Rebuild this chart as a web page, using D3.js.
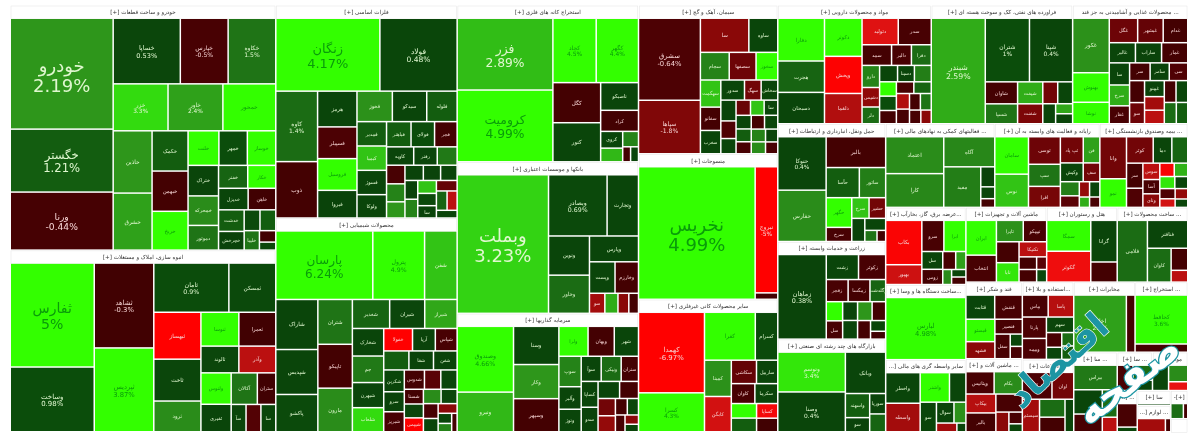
<!DOCTYPE html>
<html>
<head>
<meta charset="utf-8">
<script src="https://cdn.jsdelivr.net/npm/d3@7"></script>
<style>
  html, body { margin: 0; padding: 0; background: #fff; }
  svg { display: block; filter: blur(0.5px); }
  text { font-family: "DejaVu Sans", "Noto Sans", sans-serif; }
</style>
</head>
<body>
<div id="map"></div>
<script>
// group names, and the size of each group in the map
const sectorNames = ["خودرو و ساخت قطعات [+]", "انبوه سازی، املاک و مستغلات [+]", "فلزات اساسی [+]", "محصولات شیمیایی [+]", "استخراج کانه های فلزی [+]", "بانکها و موسسات اعتباری [+]", "سرمایه گذاریها [+]", "سیمان، آهک و گچ [+]", "منسوجات [+]", "سایر محصولات کانی غیرفلزی [+]", "مواد و محصولات دارویی [+]", "فراورده های نفتی، کک و سوخت هسته ای [+]", "... محصولات غذایی و آشامیدنی به جز قند", "حمل ونقل، انبارداری و ارتباطات [+]", "... فعالیتهای کمکی به نهادهای مالی [+]", "رایانه و فعالیت های وابسته به آن [+]", "... بیمه وصندوق بازنشستگی [+]", "زراعت و خدمات وابسته [+]", "بازارگاه های چند رشته ای صنعتی [+]", "...عرضه برق، گاز، بخارآب [+]", "ماشین آلات و تجهیزات [+]", "هتل و رستوران [+]", "... ساخت محصولات [+]", "...ساخت دستگاه ها و وسا [+]", "سایر واسطه گری های مالی [+]", "قند و شکر [+]", "... ماشین آلات و [+]", "...استفاده و بلا [+]", "... اطلاعات [+]", "مخابرات [+]", "... استخراج [+]", "... سا [+]", "... سا [+]", "موتور [+]", "... [+]", "سا [+]", "... لوازم [+]", "[+]-", ""];
const sectorValues = [64660, 47965, 38372, 38553, 28236, 27331, 21358, 20572, 20155, 18348, 18088, 16660, 13566, 12636, 9072, 8736, 7308, 10476, 9936, 6156, 6004, 5244, 5244, 5994, 5751, 4300, 4100, 3950, 3700, 4275, 3675, 3440, 1344, 1344, 820, 500, 875, 475, 220];
// the order the map lays its groups out in
const sectorOrder = [0, 1, 2, 3, 4, 5, 6, 7, 8, 9, 10, 11, 12, 13, 17, 18, 14, 15, 16, 19, 23, 24, 20, 21, 22, 25, 26, 27, 28, 29, 30, 31, 32, 33, 34, 35, 36, 37, 38];

const names1 = ["خودرو", "خگستر", "ورنا", "خساپا", "خپارس", "خکاوه", "خزر", "خاور", "خمحور", "خاذین", "خشرق", "خکمک", "خبهمن", "خریخ", "خلنت", "خمهر", "خوساز", "ختراک", "خمحرکه", "دموتور", "خفنر", "خکار", "خدیزل", "خاهن", "خدشت", "", "", "خچرخش", "خلیبا", "", ""];
const sizes1 = [11200, 6300, 5800, 4250, 3000, 2990, 2450, 2450, 2360, 2300, 2100, 1350, 1350, 1300, 980, 900, 900, 850, 820, 680, 600, 575, 570, 530, 490, 280, 280, 420, 250, 150, 100];
const changes1 = [2.19, 1.21, -0.44, 0.53, -0.5, 1.5, 3.3, 2.4, 3.9, 2.2, 2.4, 1.2, -0.4, 4.2, 4.2, 1, 4, 0.4, 2, 1.5, 1.3, 3.6, 0.4, -0.3, 1.2, 0.8, 1.2, 0.3, 1.5, -0.3, 0.5];

const names2 = ["ثفارس", "وساخت", "ثشاهد", "ثپردیس", "ثامان", "ثمسکن", "ثبهساز", "ثاخت", "ثرود", "ثنوسا", "ثعمرا", "ثالوند", "وآذر", "ولنوس", "آکالان", "ستران", "ثقیری", "سآ", "", "سا"];
const sizes2 = [8262, 5100, 4731, 4674, 3431, 2115, 2025, 1800, 1305, 1152, 1120, 900, 875, 840, 725, 500, 730, 340, 340, 340];
const changes2 = [5, 0.98, -0.3, 3.87, 0.9, 0.7, -5, 0.5, 2, 4.5, -0.3, 0.5, -3, 4.5, 1.5, -0.3, 0.4, 0.5, -0.8, 0.4];

const names3 = ["زنگان", "فولاد", "کاوه", "ذوب", "هرمز", "فسپیلر", "فروسیل", "فیروا", "فخوز", "سیدکو", "فلوله", "فمدیر", "کیمیا", "ولوکا", "فسوژ", "فباهنر", "فجر", "فولای", "کاویه", "رفتر", "", "", "", "", "", "", "سا", "", "", "", "", "", "", "", "", ""];
const sizes3 = [7107, 5244, 2700, 2145, 1258, 1110, 1110, 962, 952, 924, 812, 621, 621, 594, 621, 528, 484, 506, 420, 360, 300, 280, 225, 210, 200, 180, 180, 270, 190, 190, 160, 170, 240, 190, 150, 120];
const changes3 = [4.17, 0.48, 1.4, -0.4, 0.4, -0.6, 4.4, 0.3, 2.1, 0.4, 1.2, 1.2, 3, 0.4, 0.4, 1.2, -0.4, 1, 0.4, 0.5, 1.6, -0.5, 0.3, 0.3, 0.4, 0.7, 0.3, 1.8, 0.3, 1.8, 1.3, -1.2, 2.2, 3, -3, 0.4];

const names4 = ["پارسان", "پترول", "شفن", "شاراک", "شپدیس", "پاکشو", "شتران", "تاپیکو", "مارون", "شغدیر", "شیران", "شیراز", "شخارک", "شبهرن", "جم", "شلعاب", "خفولا", "آریا", "شپاس", "", "شفن", "شفا", "سرو", "شبریز", "شدوس", "شکربن", "", "", "شستا", "شیپمی", "", "", "", "", "", "", "", "", ""];
const sizes4 = [6175, 3250, 2015, 1900, 1700, 1400, 1380, 1350, 1340, 950, 890, 820, 750, 680, 720, 650, 552, 430, 410, 400, 374, 390, 340, 340, 320, 374, 255, 210, 224, 210, 255, 180, 170, 200, 150, 140, 100, 80, 70];
const changes4 = [6.24, 4.9, 3, 0.4, 0.4, 0.8, 1.5, -0.4, 2, 1.3, 0.5, 2.5, 0.4, 0.5, 1.6, 3.3, -5, 0.3, -0.5, 1.2, 0.3, 0.3, 0.3, -0.5, -0.4, 0.4, -1, 0.4, -0.4, -5, 0.4, 0.5, -0.5, 2, 0.4, -2, 0.4, 1.8, -0.4];

const names5 = ["فزر", "کرومیت", "کچاد", "کگهر", "کگل", "کنور", "تاصیکو", "کراد", "کروی", "", "", "", ""];
const sizes5 = [6348, 6348, 2520, 2460, 1710, 1665, 912, 684, 300, 190, 240, 84, 84];
const changes5 = [2.89, 4.99, 4.5, 4.4, -0.4, 0.4, 0.4, -0.4, 0.4, 1.8, 2.8, -0.4, 0.4];

const names6 = ["وبملت", "وبصادر", "وتجارت", "وخاور", "ونوین", "وپارس", "وپست", "وخارزم", "سو", "", "", ""];
const sizes6 = [11968, 3306, 1740, 1404, 1443, 1128, 700, 640, 250, 210, 170, 150];
const changes6 = [3.23, 0.69, 0.4, 1.4, 0.4, 0.4, 0.4, -0.4, -2.5, 2.6, -2, -0.4];

const names7 = ["وصندوق", "ونیرو", "وسنا", "وکار", "وسپهر", "ولرا", "وبهان", "شهر", "سوپ", "وآلبر", "وتوژ", "سوآ", "ونیکی", "سدو", "", "ستران", "کساپا", "", "", "", "", "", "", "", ""];
const sizes7 = [3392, 2014, 1548, 1376, 1333, 756, 675, 621, 580, 420, 420, 420, 420, 340, 300, 360, 360, 240, 260, 220, 150, 140, 120, 90, 70];
const changes7 = [4.66, 2.8, 0.4, 2.2, -0.4, 4.3, -0.4, 0.4, 1.8, 0.4, 0.4, 0.4, 1.4, 0.3, 0.4, -0.4, 0.4, -1.5, -0.4, -2.2, -0.4, 0.4, -0.5, -2, 0.4];

const names8 = ["سشرق", "سپاها", "سا", "ساوه", "سجام", "سصفها", "سخوز", "سهگمت", "سفانو", "سغرب", "سدور", "سهگ", "سخاش", "", "", "", "", "سا", "", "", "", "", "", "", "", "", "", ""];
const sizes8 = [4424, 2856, 1392, 812, 648, 600, 480, 440, 374, 374, 374, 255, 255, 240, 200, 150, 140, 150, 170, 160, 130, 130, 150, 120, 130, 110, 130, 100];
const changes8 = [-0.64, -1.8, -2, 0.4, 1.8, -1.4, 4.4, 3, -0.4, 0.4, 0.4, -1.5, 0.4, 0.3, -0.7, 3, 1.2, 0.4, 0.4, -1.3, -0.5, -0.4, 0.4, 2, 0.4, 0.4, 1.8, -0.5];

const names9 = ["نخریس", "نبروج", ""];
const sizes9 = [14351, 2562, 105];
const changes9 = [4.99, -5, -0.4];

const names10 = ["کهمدا", "کسرا", "کفرا", "کسرام", "کمینا", "کابگن", "سکاشی", "کاوان", "کساپا", "", "ساربیل", "سکرما", "", ""];
const sizes10 = [4914, 2331, 2205, 945, 850, 825, 500, 391, 250, 300, 418, 380, 230, 280];
const changes10 = [-6.97, 4.3, 4.2, 0.8, 2.1, -3.5, -1.2, -0.5, -4.5, 4.3, 0.4, 0.4, -0.3, 1.2];

const names11 = ["دفارا", "هجرت", "دسبحان", "دکوثر", "وپخش", "دتولید", "دلقما", "سدر", "سمد", "دالبر", "دفرا", "دارو", "دشیمی", "دلر", "", "", "", "", "دسینا", "", "", "", "", "", "", "", "", ""];
const sizes11 = [1720, 1247, 1247, 1216, 1184, 800, 957, 726, 495, 323, 323, 304, 266, 225, 225, 180, 165, 150, 210, 150, 210, 150, 140, 180, 130, 130, 110, 100];
const changes11 = [4.4, 1.3, 0.4, 4.4, -4.9, -3.8, -2.8, -0.5, -0.4, -0.5, 1.4, 1.8, -2.1, 1.4, 0.4, 4, -0.4, -0.5, 0.4, 1.3, 1.7, -2.8, -0.5, 0.9, -0.4, 1.5, -0.5, -2];

const names12 = ["شبندر", "شپنا", "شتران", "شاوان", "شیفت", "", "", "شسپا", "شفنت", "", "", ""];
const sizes12 = [5200, 2460, 2520, 600, 460, 260, 260, 540, 414, 200, 126, 126];
const changes12 = [2.59, 0.4, 1, -0.4, 2.6, -1.5, 0.4, 1.5, -1.7, 0.4, 2.5, 0.4];

const names13 = ["غکور", "بهنوش", "نوشا", "غگل", "غبشهر", "غدام", "غالبر", "ساراب", "سا", "غمار", "غفار", "سرخ", "سی", "سو", "سر", "سامر", "", "", "", "", "غپینو", "", "", ""];
const sizes13 = [1696, 896, 640, 560, 500, 480, 418, 418, 352, 418, 280, 330, 250, 240, 280, 260, 250, 200, 200, 190, 240, 190, 190, 180];
const changes13 = [2.1, 4.3, 4.3, -1.4, -1.2, -0.4, 0.4, 0.3, 0.4, -0.4, -0.5, 2.6, -0.7, -1.4, -0.4, 0.3, -0.4, -2.5, -3, -0.4, 0.3, 0.4, 1.4, 1.2];

const names14 = ["حتوکا", "حفارس", "بالبر", "حآسا", "حگهر", "ساتور", "حشیر", "سرخ", "", "سرخ", "", "", ""];
const sizes14 = [2150, 2064, 1508, 800, 600, 627, 255, 270, 221, 266, 180, 90, 60];
const changes14 = [0.4, 2, -0.4, 1.2, 4.2, 1.7, -1.5, -0.5, 0.3, 3, 0.4, 1.5, -0.4];

const names15 = ["اعتماد", "کارا", "آگاه", "مفید", "", "", ""];
const sizes15 = [1870, 1705, 1323, 1292, 216, 120, 84];
const changes15 = [2, 1.9, 1.9, 1.7, 0.3, 0.4, -0.4];

const names16 = ["سامان", "نوس", "توسی", "افرا", "سپ", "تپ پاد", "فن", "", "", "وکیش", "سف", "", "", "", ""];
const sizes16 = [1054, 930, 720, 540, 570, 480, 340, 200, 160, 336, 238, 110, 110, 70, 70];
const changes16 = [4.2, 3, -1.4, -1.6, 1.5, -1.5, 2.4, 1.7, -1, 0.4, -1.5, -2.2, 0.4, 2.6, -0.5];

const names17 = ["وانا", "نمو", "کوثر", "دما", "سر", "", "سوس", "", "", "", "وتای", "", "", "آسا", "", "", "", ""];
const sizes17 = [936, 624, 575, 391, 322, 330, 210, 140, 130, 240, 170, 130, 110, 180, 110, 90, 90, 70];
const changes17 = [-1.5, 4.3, -1.5, 0.4, -0.4, 1.3, -3, -4.7, 2.7, -0.7, -2, 3.4, 0.4, -0.5, -0.7, -3.5, -2.2, 0.4];

const names18 = ["زماهان", "زشت", "زکوثر", "زفجر", "زمگسا", "زگلدشت", "", "", "", "", "سل", "", "", "", ""];
const sizes18 = [3735, 690, 575, 400, 400, 280, 220, 250, 200, 216, 238, 221, 187, 120, 84];
const changes18 = [0.38, 0.4, -0.5, -0.5, -0.4, 1.3, 0.4, 4.2, -0.4, 2.2, -0.5, 0.4, -0.4, 0.4, -0.3];

const names19 = ["وتوسم", "وصنا", "وبانک", "واسهند", "", "سوریا", "سو"];
const sizes19 = [2368, 2368, 1444, 480, 220, 255, 270];
const changes19 = [3.4, 0.4, 0.4, 1.2, 1.3, 0.4, 0.3];

const names20 = ["بکاب", "بهپور", "سرو", "ابرا", "سل", "", "", "زومی", "", "", ""];
const sizes20 = [1344, 576, 550, 550, 285, 170, 90, 240, 130, 70, 70];
const changes20 = [-4.8, -3.4, -0.5, 4, 0.4, -0.5, 2, -0.4, 2.4, 0.4, -0.4];

const names21 = ["ایران", "انتخاب", "تایرا", "تیپیکو", "تابا", "تکنیکا", "", "", "", "", ""];
const sizes21 = [918, 702, 480, 414, 360, 340, 390, 170, 170, 90, 90];
const changes21 = [4.2, -0.5, 2.1, -0.5, 3.4, -3, -0.4, -0.4, -0.4, -1, 0.6];

const names22 = ["سمگا", "گکوثر", "گرانا", ""];
const sizes22 = [1230, 1230, 984, 456];
const changes22 = [4.2, -4.3, 0.4, -0.4];

const names23 = ["فلامی", "فنافتر", "کاوان", "", ""];
const sizes23 = [1674, 988, 693, 300, 150];
const changes23 = [1.4, 0.4, 1.4, -0.4, -3];

const names24 = ["لبارس"];
const sizes24 = [4582];
const changes24 = [4.98];

const names25 = ["واخطر", "واسطه", "واشنر", "سو", "", "سوال", "", "", ""];
const sizes25 = [896, 832, 728, 390, 392, 290, 190, 130, 50];
const changes25 = [0.4, -2.5, 3.8, 0.4, 0.4, 0.4, 2.1, -2.5, 0.4];

const names26 = ["قثابت", "قیستو", "قنقش", "قشهد", "قنصیر", "سفل", "", ""];
const sizes26 = [644, 600, 616, 448, 364, 336, 120, 120];
const changes26 = [0.4, 4.2, -0.5, -2, -0.5, -0.5, 0.4, -0.5];

const names27 = ["ویتانیس", "بکام", "بالبر", "بیکاپ", "", "", "", ""];
const sizes27 = [504, 504, 448, 450, 375, 190, 110, 70];
const changes27 = [-0.5, 2, -0.4, -2.9, -0.5, -2, -0.5, 0.4];

const names28 = ["بپاس", "وبیمه", "پاسا", "سهم", "پارتا", "", "", "", ""];
const sizes28 = [442, 390, 437, 324, 399, 162, 110, 110, 130];
const changes28 = [-0.5, -0.6, -2.9, 0.4, -0.6, -0.5, 1.4, 1.2, 0.4];

const names29 = ["سآما", "اوان", "سیستم", "", "", ""];
const sizes29 = [900, 650, 620, 500, 400, 300];
const changes29 = [-0.6, -1.5, -2.5, 1.4, -0.4, 0.4];

const names30 = ["اخابر", ""];
const sizes30 = [2990, 455];
const changes30 = [2.4, -0.4];

const names31 = ["کحافظ", ""];
const sizes31 = [2535, 390];
const changes31 = [3.6, -0.4];

const names32 = ["بیراس", "", "", "", ""];
const sizes32 = [1100, 700, 500, 400, 200];
const changes32 = [1.6, 0.4, -0.5, 1.4, -3];

const names33 = ["", "", ""];
const sizes33 = [420, 300, 200];
const changes33 = [-0.5, 1.4, 0.4];

const names34 = ["", "", ""];
const sizes34 = [420, 320, 160];
const changes34 = [0.4, 2, -4];

const names35 = ["", ""];
const sizes35 = [540, 90];
const changes35 = [-0.5, 0.4];

const names36 = [""];
const sizes36 = [300];
const changes36 = [0.4];

const names37 = ["", ""];
const sizes37 = [500, 80];
const changes37 = [-2.5, -0.4];

const names38 = ["", ""];
const sizes38 = [170, 50];
const changes38 = [1.4, -0.4];

const names39 = [""];
const sizes39 = [100];
const changes39 = [3.4];

const tileNames = [names1, names2, names3, names4, names5, names6, names7, names8, names9, names10, names11, names12, names13, names14, names15, names16, names17, names18, names19, names20, names21, names22, names23, names24, names25, names26, names27, names28, names29, names30, names31, names32, names33, names34, names35, names36, names37, names38, names39];
const tileSizes = [sizes1, sizes2, sizes3, sizes4, sizes5, sizes6, sizes7, sizes8, sizes9, sizes10, sizes11, sizes12, sizes13, sizes14, sizes15, sizes16, sizes17, sizes18, sizes19, sizes20, sizes21, sizes22, sizes23, sizes24, sizes25, sizes26, sizes27, sizes28, sizes29, sizes30, sizes31, sizes32, sizes33, sizes34, sizes35, sizes36, sizes37, sizes38, sizes39];
const tileChanges = [changes1, changes2, changes3, changes4, changes5, changes6, changes7, changes8, changes9, changes10, changes11, changes12, changes13, changes14, changes15, changes16, changes17, changes18, changes19, changes20, changes21, changes22, changes23, changes24, changes25, changes26, changes27, changes28, changes29, changes30, changes31, changes32, changes33, changes34, changes35, changes36, changes37, changes38, changes39];

const width = 1200, height = 440;
const margin = {left: 11, top: 6, right: 13, bottom: 9};
const headerHeight = 13;
const tileGap = 1.5;

// sizes were read inside the gaps, so the gap goes back on before sharing out
let withGap = s => Math.pow(Math.sqrt(s) + tileGap, 2);

// build the tree: each group is spread out to its own share of the map
let treeData = {
    children: sectorNames.map((name, i) => {
        let total = d3.sum(tileSizes[i], withGap);
        return {
            name: name,
            rank: sectorOrder.indexOf(i),
            children: tileNames[i].map((tile, j) => ({
                name: tile,
                change: tileChanges[i][j],
                value: sectorValues[i] * withGap(tileSizes[i][j]) / total
            }))
        };
    })
};

let root = d3.hierarchy(treeData)
            .sum(d => d.children ? 0 : d.value)
            .sort((a, b) => a.height > 0 ? a.data.rank - b.data.rank : b.value - a.value);

d3.treemap()
    .tile(d3.treemapSquarify.ratio(1))
    .size([width - margin.left - margin.right, height - margin.top - margin.bottom])
    .paddingTop(d => d.depth === 1 ? headerHeight : 0)
    .paddingInner(tileGap)(root);

let colorScale = d3.scaleLinear()
    .domain([-5, -4, -3, -2, -1, -0.001, 0, 1, 1.5, 2.2, 3.2, 3.6, 5])
    .range(["#ff0000", "#e81212", "#bb1010", "#8a0808", "#5a0206", "#360000", "#0a3f0a", "#0b4d0b", "#1f7416", "#2e961b", "#33cf14", "#33ff00", "#33ff00"])
    .clamp(true);

let fontScale = d3.scaleLinear()
    .domain([300, 1500, 5300, 6300, 8400, 11000])
    .range([4.8, 5.5, 7, 12, 14, 18])
    .clamp(true);

function textColor(change) {
    if (change >= 3.5) return "#0a9c0a";
    return change >= 0 ? "#dff7cf" : "#f7d5d5";
}

let svg = d3.select("#map").append("svg")
            .attr("width", width)
            .attr("height", height);

let plot = svg.append("g")
            .attr("transform", `translate(${margin.left},${margin.top})`);

let groups = plot.selectAll("g.sector")
            .data(root.children)
            .join("g")
            .classed("sector", true);

groups.append("rect")
    .attr("x", d => d.x0)
    .attr("y", d => d.y0)
    .attr("width", d => d.x1 - d.x0)
    .attr("height", headerHeight)
    .attr("fill", "#fff")
    .attr("stroke", "#e4e4e4")
    .attr("stroke-width", 0.5);

groups.append("text")
    .attr("x", d => (d.x0 + d.x1) / 2)
    .attr("y", d => d.y0 + 8)
    .attr("text-anchor", "middle")
    .attr("font-size", 5.6)
    .attr("fill", "#333")
    .attr("direction", "rtl")
    .text(d => d.data.name)
    .each(function (d) {
        // long names get cut the way the map cuts them
        let room = d.x1 - d.x0 - 3;
        let label = d.data.name;
        while (label.length > 0 && this.getComputedTextLength() > room) {
            label = label.slice(0, -1);
            d3.select(this).text(label.length > 3 ? label + "..." : label);
        }
    });

let tiles = plot.selectAll("g.tile")
            .data(root.leaves())
            .join("g")
            .classed("tile", true);

tiles.append("rect")
    .attr("x", d => d.x0)
    .attr("y", d => d.y0)
    .attr("width", d => Math.max(0, d.x1 - d.x0))
    .attr("height", d => Math.max(0, d.y1 - d.y0))
    .attr("fill", d => colorScale(d.data.change));

tiles.filter(d => d.data.name !== "").each(function (d) {
    let w = d.x1 - d.x0, h = d.y1 - d.y0, area = w * h;
    let size = fontScale(area);
    let cx = (d.x0 + d.x1) / 2, cy = (d.y0 + d.y1) / 2;
    let withPct = area > 2400;
    let label = d3.select(this).append("text")
        .attr("text-anchor", "middle")
        .attr("font-size", size)
        .attr("fill", textColor(d.data.change));
    label.append("tspan")
        .attr("x", cx)
        .attr("y", withPct ? cy - size * 0.12 : cy + size * 0.35)
        .text(d.data.name);
    if (withPct) {
        label.append("tspan")
            .attr("x", cx)
            .attr("y", cy + size * 1.02)
            .attr("direction", "ltr")
            .text(d.data.change + "%");
    }
});

// the publisher's mark sitting on the lower right corner
let logo = svg.append("g").attr("font-weight", "bold");

logo.append("text")
    .attr("transform", "translate(1066,370) rotate(-42)")
    .attr("text-anchor", "middle")
    .attr("font-size", 37)
    .attr("fill", "#1c95a3")
    .attr("stroke", "#fff")
    .attr("stroke-width", 1.2)
    .attr("paint-order", "stroke")
    .text("اقتصاد");

logo.append("text")
    .attr("transform", "translate(1136,390) rotate(-38)")
    .attr("text-anchor", "middle")
    .attr("font-size", 40)
    .attr("fill", "#fff")
    .attr("stroke", "#1c95a3")
    .attr("stroke-width", 2.5)
    .attr("paint-order", "stroke")
    .text("صفحه");
</script>
</body>
</html>
